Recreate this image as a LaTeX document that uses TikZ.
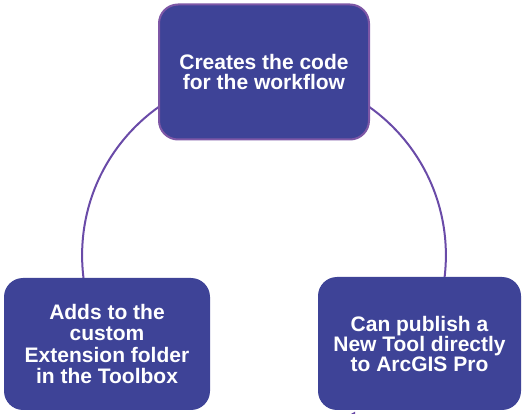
\documentclass[tikz,border=0pt]{standalone}
\usepackage{fontspec}
\setmainfont{Liberation Sans}
\definecolor{boxfill}{HTML}{3E4397}
\definecolor{boxline}{HTML}{7E57A6}
\definecolor{arcline}{HTML}{6A4BA8}
\begin{document}
\begin{tikzpicture}[x=1pt,y=-1pt,
  stepbox/.style={rounded corners=19pt, fill=boxfill, text=white, align=center,
    inner sep=0pt, font=\bfseries\fontsize{21}{20}\selectfont},
  ring/.style={draw=arcline, line width=2pt}]
\useasboundingbox (0,0) rectangle (523,414);
\coordinate (c) at (264,255.3);
\begin{scope}
  \clip (0,0) rectangle (523,405) (344,405) rectangle (355,414);
  \draw[ring] (c) circle[radius=181.9];
\end{scope}
\node[stepbox, draw=boxline, line width=2pt, minimum width=210pt, minimum height=135pt,
  font=\bfseries\fontsize{21}{19.5}\selectfont] (top) at (264,72)
  {Creates the code\\for the workflow};
\node[stepbox, minimum width=206pt, minimum height=132pt,
  font=\bfseries\fontsize{21}{21.5}\selectfont] (left) at (107,344)
  {Adds to the\\custom\\Extension folder\\in the Toolbox};
\node[stepbox, minimum width=203pt, minimum height=133pt] (right) at (419.5,343.5)
  {Can publish a\\New Tool directly\\to ArcGIS Pro};
\end{tikzpicture}
\end{document}
